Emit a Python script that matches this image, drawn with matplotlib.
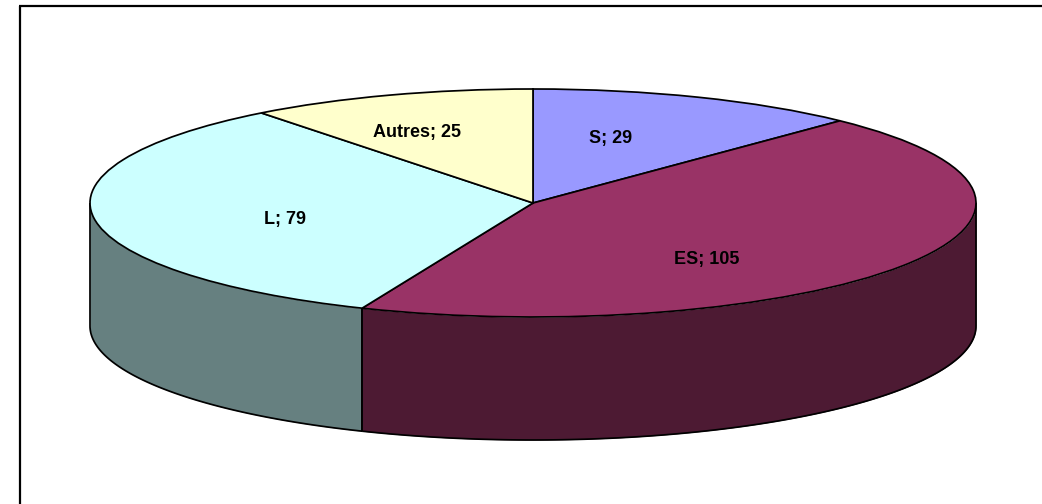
import matplotlib
matplotlib.use('Agg')
import matplotlib.pyplot as plt
import numpy as np
from matplotlib.lines import Line2D

categories = ['S', 'ES', 'L', 'Autres']
values = [29, 105, 79, 25]
top_colors = ['#9999FF', '#993366', '#CCFFFF', '#FFFFCC']
side_colors = ['#4D4D80', '#4D1A33', '#668080', '#808066']

W, H = 1042, 504
cx, cy = 533, 203   # centre of the top ellipse, in pixels
rx, ry = 443, 114
depth = 123 / ry
edge = 1.25

plt.rcParams['font.family'] = ['Liberation Sans', 'DejaVu Sans']


def to_data(px, py):
    return (px - cx) / rx, (cy - py) / ry


fig = plt.figure(figsize=(W / 100, H / 100), dpi=100)
ax = fig.add_axes([0, 0, 1, 1])

wedges, _ = ax.pie(values, colors=top_colors, startangle=90, counterclock=False,
                   wedgeprops={'edgecolor': 'black', 'linewidth': edge, 'zorder': 3})
ax.set_aspect('auto')
ax.set_xlim((0 - cx) / rx, (W - cx) / rx)
ax.set_ylim((cy - H) / ry, cy / ry)
ax.axis('off')

# side wall: only the part of each slice that faces the viewer
angle = 90.0
for val, col in zip(values, side_colors):
    a2 = angle - val / sum(values) * 360
    lo, hi = max(a2, -180), min(angle, 0)
    if lo < hi:
        t = np.radians(np.linspace(hi, lo, 120))
        x = np.cos(t)
        y = np.sin(t)
        ax.fill_between(x, y, y - depth, color=col, linewidth=0, zorder=1)
        ax.plot(x, y - depth, color='black', lw=edge, zorder=2, solid_capstyle='butt')
        ax.plot([x[0], x[0]], [y[0], y[0] - depth], color='black', lw=edge, zorder=2, solid_capstyle='butt')
        ax.plot([x[-1], x[-1]], [y[-1], y[-1] - depth], color='black', lw=edge, zorder=2, solid_capstyle='butt')
    angle = a2

label_px = [(611, 139), (707, 260), (285, 220), (417, 133)]
for name, val, pos in zip(categories, values, label_px):
    lx, ly = to_data(*pos)
    ax.text(lx, ly, '{}; {}'.format(name, val), ha='center', va='center',
            fontsize=13, fontweight='bold', color='black', zorder=5)

# chart area border, only the left and top edges are in the picture
fig.add_artist(Line2D([19.5 / W, 19.5 / W], [0, 1 - 6 / H], color='black', lw=1.6, solid_capstyle='butt'))
fig.add_artist(Line2D([19 / W, 1], [1 - 6 / H, 1 - 6 / H], color='black', lw=1.6, solid_capstyle='butt'))

fig.savefig('out.png', dpi=100, facecolor='white')
